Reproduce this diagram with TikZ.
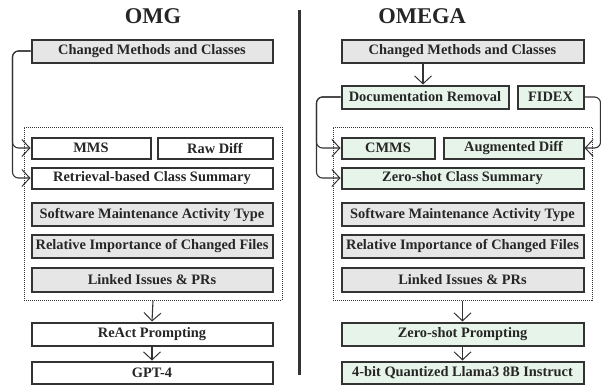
\documentclass[tikz,border=0pt]{standalone}
\usepackage{fontspec}
\setmainfont{Liberation Serif}
\usetikzlibrary{arrows.meta}
\definecolor{boxgray}{HTML}{E6E6E6}
\definecolor{boxgreen}{HTML}{E7F4EA}
\definecolor{edge}{HTML}{333333}
\tikzset{
  box/.style={draw=edge, line width=2pt, inner sep=0pt, font=\bfseries\fontsize{14.4}{16}\selectfont, text=black!85},
  graybox/.style={box, fill=boxgray},
  greenbox/.style={box, fill=boxgreen},
  whitebox/.style={box, fill=white},
  conn/.style={draw=edge, line width=1.1pt, -{Straight Barb[length=8pt,width=17pt,line width=1pt]}},
  elbow/.style={conn, rounded corners=6pt},
  group/.style={draw=edge, line width=1pt, dash pattern=on 1pt off 1pt},
  title/.style={font=\bfseries\fontsize{22.5}{24}\selectfont, text=black!85}
}
\begin{document}
\begin{tikzpicture}[x=1pt,y=-1pt]
\useasboundingbox (0,0) rectangle (601,391);
% divider
\draw[edge, line width=3pt] (299,10) -- (299,375);
% titles
\node[title] (t1) at (153,16) {OMG};
\node[title] (t2) at (422,16) {OMEGA};
% left column
\node[group, minimum width=258, minimum height=173] (g1) at (153,213.5) {};
\node[graybox, minimum width=241, minimum height=23] (cm1) at (152,51) {Changed Methods and Classes};
\node[whitebox, minimum width=119, minimum height=21] (mms) at (91,148) {MMS};
\node[whitebox, minimum width=115, minimum height=21] (raw) at (215,148) {Raw Diff};
\node[whitebox, minimum width=241, minimum height=21] (ret) at (152,178) {Retrieval-based Class Summary};
\node[graybox, minimum width=241, minimum height=23] (sma1) at (152,214.5) {Software Maintenance Activity Type};
\node[graybox, minimum width=241, minimum height=23] (rel1) at (152,246) {Relative Importance of Changed Files};
\node[graybox, minimum width=241, minimum height=24] (lnk1) at (152,279.5) {Linked Issues \& PRs};
\node[whitebox, minimum width=241, minimum height=23] (react) at (152,334) {ReAct Prompting};
\node[whitebox, minimum width=241, minimum height=22] (gpt) at (152,372.5) {GPT-4};
% right column
\node[group, minimum width=259, minimum height=173] (g2) at (462.5,213.5) {};
\node[graybox, minimum width=242, minimum height=23] (cm2) at (462.5,51) {Changed Methods and Classes};
\node[greenbox, minimum width=167, minimum height=23] (doc) at (425,97) {Documentation Removal};
\node[greenbox, minimum width=66, minimum height=23] (fidex) at (550.5,97) {FIDEX};
\node[greenbox, minimum width=93, minimum height=21] (cmms) at (388,148) {CMMS};
\node[greenbox, minimum width=140, minimum height=21] (aug) at (513.5,148) {Augmented Diff};
\node[greenbox, minimum width=242, minimum height=21] (zcs) at (462.5,178) {Zero-shot Class Summary};
\node[graybox, minimum width=242, minimum height=23] (sma2) at (462.5,214.5) {Software Maintenance Activity Type};
\node[graybox, minimum width=242, minimum height=23] (rel2) at (462.5,246) {Relative Importance of Changed Files};
\node[graybox, minimum width=242, minimum height=24] (lnk2) at (462.5,279.5) {Linked Issues \& PRs};
\node[greenbox, minimum width=242, minimum height=23] (zsp) at (462.5,334) {Zero-shot Prompting};
\node[greenbox, minimum width=242, minimum height=22] (llama) at (462.5,372.5) {4-bit Quantized Llama3 8B Instruct};
% connectors left
\draw[elbow] (cm1.west) -- ++(-18,0) |- (mms.west);
\draw[elbow] (cm1.west) -- ++(-18,0) |- (ret.west);
\draw[conn] (g1.south) -- (react.north);
\draw[conn] (react.south) -- (gpt.north);
% connectors right
\draw[conn] (cm2.south -| 423,0) -- (doc.north -| 423,0);
\draw[elbow] (doc.west) -- ++(-24,0) |- (cmms.west);
\draw[elbow] (doc.west) -- ++(-24,0) |- (zcs.west);
\draw[elbow] (fidex.east) -- ++(16,0) |- (aug.east);
\draw[conn] (g2.south -| zsp.north) -- (zsp.north);
\draw[conn] (zsp.south) -- (llama.north);
\end{tikzpicture}
\end{document}
